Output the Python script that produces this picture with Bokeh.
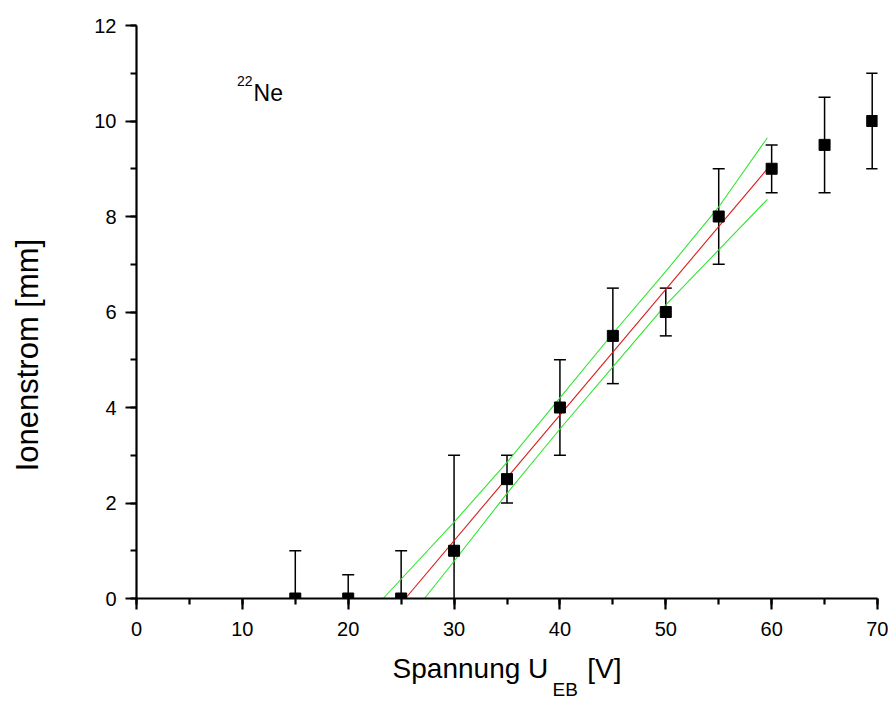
import numpy as np
from bokeh.plotting import figure
from bokeh.models import Label, Range1d, SingleIntervalTicker, Title
from bokeh.embed import file_html
from bokeh.resources import INLINE

# Measured data
voltage = [15, 20, 25, 30, 35, 40, 45, 50, 55, 60, 65, 69.5]
current = [0, 0, 0, 1, 2.5, 4, 5.5, 6, 8, 9, 9.5, 10]
error = [1, 0.5, 1, 2, 0.5, 1, 1, 0.5, 1, 0.5, 1, 1]

# Linear fit (red) and confidence band (green)
fit_x = [25.4, 59.6]
fit_y = [0.0, 9.0]
band_up_x = [23.3, 30, 35, 40, 45, 50, 55, 59.6]
band_up_y = [0.0, 1.6, 2.85, 4.2, 5.55, 6.85, 8.2, 9.65]
band_lo_x = [27.2, 30, 35, 40, 45, 50, 55, 59.6]
band_lo_y = [0.0, 0.78, 2.2, 3.55, 4.85, 6.15, 7.3, 8.36]

FONT = "Liberation Sans"
NB = "\u00a0"

p = figure(width=888, height=700, output_backend="svg", toolbar_location=None,
           x_range=Range1d(0, 70), y_range=Range1d(0, 12),
           min_border_left=136, min_border_right=11,
           min_border_top=25, min_border_bottom=102)
p.xgrid.visible = False
p.ygrid.visible = False
p.outline_line_color = None
p.background_fill_color = "white"
p.border_fill_color = "white"

p.xaxis.ticker = SingleIntervalTicker(interval=10, num_minor_ticks=2)
p.yaxis.ticker = SingleIntervalTicker(interval=2, num_minor_ticks=2)
for ax in (p.xaxis, p.yaxis):
    ax.axis_line_width = 2.2
    ax.axis_line_color = "black"
    ax.major_tick_line_width = 2.2
    ax.minor_tick_line_width = 2.2
    ax.major_tick_line_color = "black"
    ax.minor_tick_line_color = "black"
    ax.major_tick_in = 0
    ax.major_tick_out = 11
    ax.minor_tick_in = 0
    ax.minor_tick_out = 6
    ax.major_label_text_font = FONT
    ax.major_label_text_font_size = "20px"
    ax.major_label_text_color = "black"
    ax.axis_label_text_font = FONT
    ax.axis_label_text_font_style = "normal"
    ax.axis_label_text_color = "black"
p.xaxis.major_label_standoff = 12
p.yaxis.major_label_standoff = 9

# Axis titles
p.xaxis.axis_label = "Spannung U" + NB * 5 + "[V]"
p.xaxis.axis_label_text_font_size = "28px"
p.xaxis.axis_label_standoff = 14
p.yaxis.axis_label = "Ionenstrom [mm]" + NB * 10
p.yaxis.axis_label_text_font_size = "31px"
p.yaxis.axis_label_standoff = 46

# Subscript of U
p.add_layout(Title(text="EB", align="left", offset=416, vertical_align="top",
                   standoff=-16, text_font=FONT, text_font_size="19px",
                   text_font_style="normal", text_color="black"), "below")

v = np.array(voltage, dtype=float)
c = np.array(current, dtype=float)
e = np.array(error, dtype=float)
upper = c + e
lower = c - e

# Error bars
p.segment(x0=v, y0=lower, x1=v, y1=upper, line_color="black", line_width=1.5)
p.scatter(x=v, y=upper, marker="dash", size=12, line_color="black", line_width=1.5)
p.scatter(x=v, y=lower, marker="dash", size=12, line_color="black", line_width=1.5)

# Fit and confidence band
p.line(band_up_x, band_up_y, line_color="#30e630", line_width=1.1)
p.line(band_lo_x, band_lo_y, line_color="#30e630", line_width=1.1)
p.line(fit_x, fit_y, line_color="#d81c1c", line_width=1.1)

# Data points
p.scatter(x=v, y=c, marker="square", size=11, fill_color="black", line_color="black")

# Isotope label
p.add_layout(Label(x=11.06, y=10.58, text="Ne", text_font=FONT, text_font_size="23px",
                   text_align="left", text_baseline="alphabetic", text_color="black"))
p.add_layout(Label(x=10.96, y=10.83, text="22", text_font=FONT, text_font_size="14px",
                   text_align="right", text_baseline="alphabetic", text_color="black"))

open("out.html", "w").write(file_html(p, INLINE))
